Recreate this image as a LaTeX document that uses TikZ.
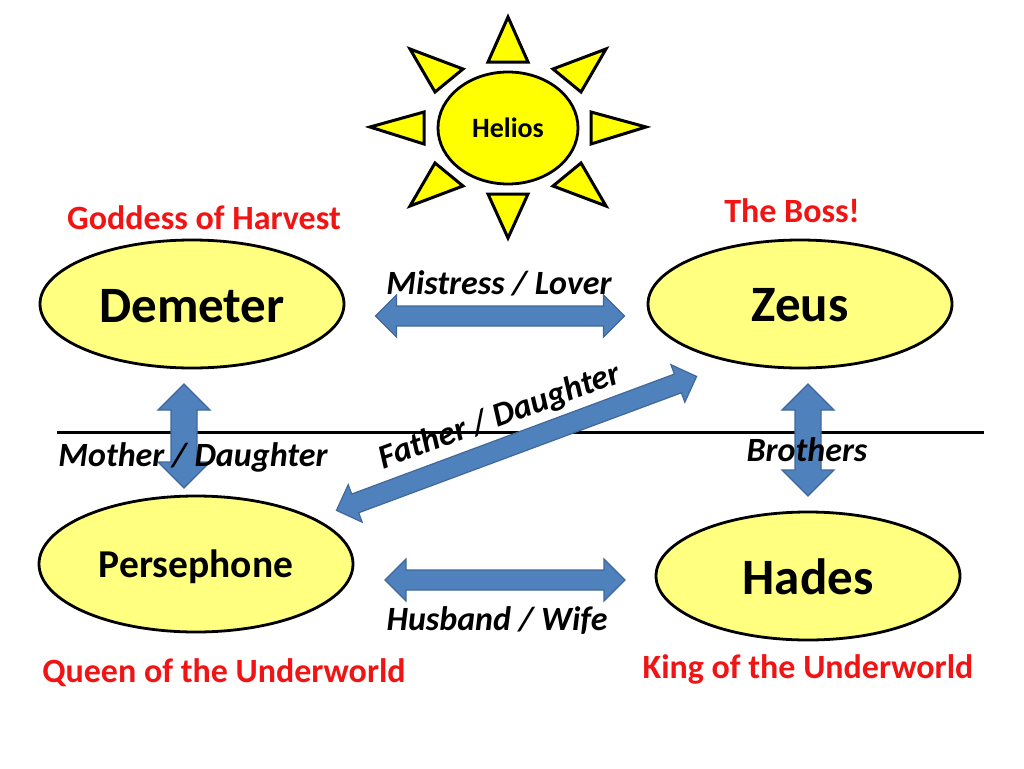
\documentclass[tikz,border=0pt]{standalone}
\usepackage{fontspec}
\setmainfont{Carlito}
\usetikzlibrary{shapes.geometric,calc}
\definecolor{paleyellow}{HTML}{FFFF80}
\definecolor{sunyellow}{HTML}{FFFF00}
\definecolor{arrowblue}{HTML}{4F81BD}
\definecolor{arrowedge}{HTML}{41689A}
\definecolor{labelred}{HTML}{F01414}
\newcommand{\lowered}[2]{\raisebox{-#1pt}[\height][\depth]{#2}}
\tikzset{
  person/.style={ellipse,draw=black,line width=2.8pt,fill=paleyellow,inner sep=0pt,outer sep=0pt,font=\bfseries},
  ray/.style={draw=black,line width=3pt,fill=sunyellow,line join=miter},
  rel/.style={inner sep=0pt,font=\bfseries\itshape\fontsize{34}{34}\selectfont,text=black},
  role/.style={inner sep=0pt,font=\bfseries\fontsize{34}{34}\selectfont,text=labelred},
  big/.style={font=\bfseries\fontsize{51}{51}\selectfont},
  % block=shaft width/head width/gap at start/gap at end
  block/.style args={#1/#2/#3/#4}{
    draw=arrowedge,line width=1.2pt,fill=arrowblue,line join=miter,
    to path={
      let \p1=($(\tikztostart)!#3pt!(\tikztotarget)$),
          \p2=($(\tikztotarget)!#4pt!(\tikztostart)$),
          \n1={atan2(\y2-\y1,\x2-\x1)}
      in (\p1)
      -- ($(\p1)+(\n1:#2*0.5pt)+(\n1+90:#2*0.5pt)$)
      -- ($(\p1)+(\n1:#2*0.5pt)+(\n1+90:#1*0.5pt)$)
      -- ($(\p2)-(\n1:#2*0.5pt)+(\n1+90:#1*0.5pt)$)
      -- ($(\p2)-(\n1:#2*0.5pt)+(\n1+90:#2*0.5pt)$)
      -- (\p2)
      -- ($(\p2)-(\n1:#2*0.5pt)-(\n1+90:#2*0.5pt)$)
      -- ($(\p2)-(\n1:#2*0.5pt)-(\n1+90:#1*0.5pt)$)
      -- ($(\p1)+(\n1:#2*0.5pt)-(\n1+90:#1*0.5pt)$)
      -- ($(\p1)+(\n1:#2*0.5pt)-(\n1+90:#2*0.5pt)$)
      -- cycle
    }
  }
}
\begin{document}
\begin{tikzpicture}[x=1pt,y=-1pt]
\useasboundingbox[fill=white] (0,0) rectangle (1024,768);
% divider
\coordinate (divL) at (57,432);
\coordinate (divR) at (984,432);
\draw[line width=3pt,black] (divL) -- (divR);
% sun
\draw[ray] (508,17) -- (488,62) -- (528,62) -- cycle;
\draw[ray] (646,127) -- (591,112) -- (591,144) -- cycle;
\draw[ray] (370,127) -- (424,112) -- (424,144) -- cycle;
\draw[ray] (508,238) -- (488,194) -- (528,194) -- cycle;
\draw[ray] (410,49) -- (463,69) -- (435,92) -- cycle;
\draw[ray] (606,49) -- (553,69) -- (581,92) -- cycle;
\draw[ray] (410,206) -- (463,186) -- (435,163) -- cycle;
\draw[ray] (606,206) -- (553,186) -- (581,163) -- cycle;
\node[person,fill=sunyellow,minimum width=140pt,minimum height=112pt,font=\bfseries\fontsize{28}{28}\selectfont] (helios) at (508,128) {Helios};
% people
\node[person,big,minimum width=304pt,minimum height=128pt] (demeter) at (192,304) {\lowered{2}{Demeter}};
\node[person,big,minimum width=304pt,minimum height=128pt] (zeus) at (800,304) {\lowered{1.5}{Zeus}};
\node[person,minimum width=314pt,minimum height=136pt,font=\bfseries\fontsize{39.5}{39.5}\selectfont] (persephone) at (196,564) {\lowered{3}{Persephone}};
\node[person,big,minimum width=304pt,minimum height=128pt] (hades) at (808,576) {\lowered{1}{Hades}};
% connectors
\draw[block=20/42/31.5/23.5] ($(demeter.east)+(0,12)$) to ($(zeus.west)+(0,12)$);
\draw[block=26/52/16/8] ($(demeter.south)+(-8,0)$) to ($(persephone.north)+(-12,0)$);
\draw[block=26/52/16/16] ($(zeus.south)+(8,0)$) to (hades.north);
\draw[block=20/42/32/31] ($(persephone.east)+(0,16)$) to ($(hades.west)+(0,4)$);
\draw[block=20/40/24.5/41.6] (persephone.21.5) to (zeus.222.5);
% relation labels
\node[rel] (lblmistress) at (499,283) {Mistress / Lover};
\node[rel] (lblmother) at (193,457) {Mother / Daughter};
\node[rel,rotate=20] (lblfather) at (500,417) {Father / Daughter};
\node[rel] (lblbrothers) at (807,450) {Brothers};
\node[rel] (lblhusband) at (497,621) {Husband / Wife};
% role labels
\node[role] (lblharvest) at (204,218) {Goddess of Harvest};
\node[role] (lblboss) at (792,211) {The Boss!};
\node[role] (lblqueen) at (224,673) {Queen of the Underworld};
\node[role] (lblking) at (808,669) {King of the Underworld};
\end{tikzpicture}
\end{document}
